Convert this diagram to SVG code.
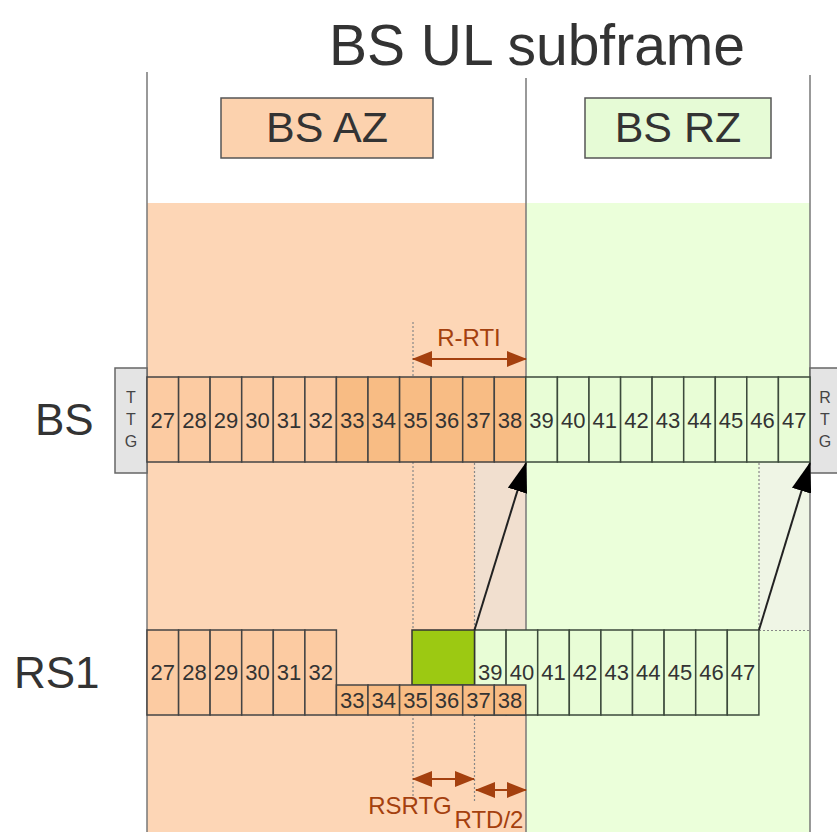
<svg xmlns="http://www.w3.org/2000/svg" width="837" height="832" viewBox="0 0 837 832">
<defs>
<style>
text{font-family:"Liberation Sans",Arial,sans-serif;fill:#333}
.title{font-size:57px;text-anchor:middle}
.zone{font-size:43px;text-anchor:middle}
.row{font-size:44px}
.num{font-size:22px;text-anchor:middle}
.gap{font-size:16px;text-anchor:middle;fill:#444}
.brown{font-size:24px;text-anchor:middle;fill:#a4400e}
.frame{stroke:#777;stroke-width:1.5;fill:none}
.dot{stroke:#888;stroke-width:1.2;stroke-dasharray:2 2;fill:none}
.lo{fill:#fccba2;stroke:#444;stroke-width:1.5}
.do{fill:#f8bc84;stroke:#444;stroke-width:1.5}
.gr{fill:#e8fdd6;stroke:#3c4a3c;stroke-width:1.5}
.gbox{fill:#9cc912;stroke:#333;stroke-width:1.5}
.gapbox{fill:#e4e4e4;stroke:#666;stroke-width:1.5}
.blk{stroke:#222;stroke-width:2;fill:none;marker-end:url(#ah)}
.br{stroke:#a4400e;stroke-width:2;fill:none;marker-start:url(#bh);marker-end:url(#bh)}
</style>
<marker id="ah" markerUnits="userSpaceOnUse" markerWidth="30" markerHeight="20" refX="29" refY="10" orient="auto">
<path d="M0,0 L30,10 L0,20 z" fill="#000"/>
</marker>
<marker id="bh" markerUnits="userSpaceOnUse" markerWidth="20" markerHeight="16" refX="19" refY="8" orient="auto-start-reverse">
<path d="M0,0 L20,8 L0,16 z" fill="#a4400e"/>
</marker>
</defs>

<!-- backgrounds -->
<rect x="147" y="203" width="379" height="629" fill="#fdd6b6"/>
<rect x="526" y="203" width="284" height="629" fill="#ebffda"/>
<rect x="474.5" y="463" width="51.5" height="167" fill="#f1dfcf"/>
<rect x="759" y="463" width="51" height="167" fill="#eff5e5"/>

<!-- title -->
<text class="title" x="537" y="65">BS UL subframe</text>

<g id="bs-az">
<rect x="221" y="98" width="212" height="60" fill="#fcd2ae" stroke="#555" stroke-width="1.5"/>
<text class="zone" x="327" y="142">BS AZ</text>
</g>
<g id="bs-rz">
<rect x="585" y="98" width="186" height="60" fill="#e6fbd6" stroke="#555" stroke-width="1.5"/>
<text class="zone" x="678" y="142">BS RZ</text>
</g>

<!-- dotted guides -->
<g id="guides">
<line class="dot" x1="413" y1="322" x2="413" y2="800"/>
<line class="dot" x1="474.5" y1="463" x2="474.5" y2="802"/>
<line class="dot" x1="759" y1="463" x2="759" y2="630"/>
<line class="dot" x1="759" y1="630.5" x2="810" y2="630.5"/>
</g>

<!-- frame lines -->
<g id="frame">
<line class="frame" x1="147" y1="72" x2="147" y2="832"/>
<line class="frame" x1="526" y1="78" x2="526" y2="832"/>
<line class="frame" x1="810" y1="75" x2="810" y2="832"/>
</g>

<!-- row labels -->
<text class="row" x="35" y="435">BS</text>
<text class="row" x="14" y="688">RS1</text>

<g id="ttg">
<rect class="gapbox" x="115" y="368" width="32" height="105"/>
<text class="gap" x="131" y="403">T</text>
<text class="gap" x="131" y="425">T</text>
<text class="gap" x="131" y="447">G</text>
</g>
<g id="rtg">
<rect class="gapbox" x="810" y="368" width="30" height="105"/>
<text class="gap" x="825" y="403">R</text>
<text class="gap" x="825" y="425">T</text>
<text class="gap" x="825" y="447">G</text>
</g>

<!-- BS row -->
<g id="bs-row">
<rect class="lo" x="147.0" y="377" width="31.6" height="85"/><text class="num" x="162.8" y="428">27</text>
<rect class="lo" x="178.6" y="377" width="31.5" height="85"/><text class="num" x="194.4" y="428">28</text>
<rect class="lo" x="210.1" y="377" width="31.6" height="85"/><text class="num" x="225.9" y="428">29</text>
<rect class="lo" x="241.7" y="377" width="31.6" height="85"/><text class="num" x="257.5" y="428">30</text>
<rect class="lo" x="273.3" y="377" width="31.6" height="85"/><text class="num" x="289.1" y="428">31</text>
<rect class="lo" x="304.9" y="377" width="31.5" height="85"/><text class="num" x="320.7" y="428">32</text>
<rect class="do" x="336.4" y="377" width="31.6" height="85"/><text class="num" x="352.2" y="428">33</text>
<rect class="do" x="368.0" y="377" width="31.6" height="85"/><text class="num" x="383.8" y="428">34</text>
<rect class="do" x="399.6" y="377" width="31.5" height="85"/><text class="num" x="415.4" y="428">35</text>
<rect class="do" x="431.1" y="377" width="31.6" height="85"/><text class="num" x="446.9" y="428">36</text>
<rect class="do" x="462.7" y="377" width="31.6" height="85"/><text class="num" x="478.5" y="428">37</text>
<rect class="do" x="494.3" y="377" width="31.5" height="85"/><text class="num" x="510.1" y="428">38</text>
<rect class="gr" x="525.8" y="377" width="31.6" height="85"/><text class="num" x="541.6" y="428">39</text>
<rect class="gr" x="557.4" y="377" width="31.6" height="85"/><text class="num" x="573.2" y="428">40</text>
<rect class="gr" x="589.0" y="377" width="31.6" height="85"/><text class="num" x="604.8" y="428">41</text>
<rect class="gr" x="620.6" y="377" width="31.5" height="85"/><text class="num" x="636.4" y="428">42</text>
<rect class="gr" x="652.1" y="377" width="31.6" height="85"/><text class="num" x="667.9" y="428">43</text>
<rect class="gr" x="683.7" y="377" width="31.6" height="85"/><text class="num" x="699.5" y="428">44</text>
<rect class="gr" x="715.3" y="377" width="31.5" height="85"/><text class="num" x="731.1" y="428">45</text>
<rect class="gr" x="746.8" y="377" width="31.6" height="85"/><text class="num" x="762.6" y="428">46</text>
<rect class="gr" x="778.4" y="377" width="31.6" height="85"/><text class="num" x="794.2" y="428">47</text>
</g>

<!-- RS1 row -->
<g id="rs1-row">
<rect class="lo" x="147.0" y="630" width="31.6" height="85"/><text class="num" x="162.8" y="680">27</text>
<rect class="lo" x="178.6" y="630" width="31.5" height="85"/><text class="num" x="194.4" y="680">28</text>
<rect class="lo" x="210.1" y="630" width="31.6" height="85"/><text class="num" x="225.9" y="680">29</text>
<rect class="lo" x="241.7" y="630" width="31.6" height="85"/><text class="num" x="257.5" y="680">30</text>
<rect class="lo" x="273.3" y="630" width="31.6" height="85"/><text class="num" x="289.1" y="680">31</text>
<rect class="lo" x="304.9" y="630" width="31.5" height="85"/><text class="num" x="320.7" y="680">32</text>
<rect class="gr" x="474.5" y="630" width="31.6" height="85"/><text class="num" x="490.3" y="680">39</text>
<rect class="gr" x="506.1" y="630" width="31.6" height="85"/><text class="num" x="521.9" y="680">40</text>
<rect class="gr" x="537.7" y="630" width="31.6" height="85"/><text class="num" x="553.5" y="680">41</text>
<rect class="gr" x="569.3" y="630" width="31.6" height="85"/><text class="num" x="585.1" y="680">42</text>
<rect class="gr" x="600.9" y="630" width="31.6" height="85"/><text class="num" x="616.7" y="680">43</text>
<rect class="gr" x="632.5" y="630" width="31.6" height="85"/><text class="num" x="648.3" y="680">44</text>
<rect class="gr" x="664.1" y="630" width="31.6" height="85"/><text class="num" x="679.9" y="680">45</text>
<rect class="gr" x="695.7" y="630" width="31.6" height="85"/><text class="num" x="711.5" y="680">46</text>
<rect class="gr" x="727.3" y="630" width="31.6" height="85"/><text class="num" x="743.1" y="680">47</text>
<rect class="gbox" x="412" y="630" width="62.5" height="55"/>
<rect class="do" x="336.4" y="685" width="31.6" height="30"/><text class="num" x="352.2" y="708">33</text>
<rect class="do" x="368.0" y="685" width="31.6" height="30"/><text class="num" x="383.8" y="708">34</text>
<rect class="do" x="399.6" y="685" width="31.5" height="30"/><text class="num" x="415.4" y="708">35</text>
<rect class="do" x="431.1" y="685" width="31.6" height="30"/><text class="num" x="446.9" y="708">36</text>
<rect class="do" x="462.7" y="685" width="31.6" height="30"/><text class="num" x="478.5" y="708">37</text>
<rect class="do" x="494.3" y="685" width="31.5" height="30"/><text class="num" x="510.1" y="708">38</text>
</g>

<!-- connectors -->
<g id="connectors">
<line class="blk" x1="474.5" y1="630" x2="526" y2="463"/>
<line class="blk" x1="759" y1="630" x2="810" y2="463"/>
<line class="br" x1="413" y1="359" x2="526" y2="359"/>
<line class="br" x1="413" y1="779" x2="474" y2="779"/>
<line class="br" x1="476" y1="790" x2="526" y2="790"/>
</g>

<text class="brown" x="469" y="346">R-RTI</text>
<text class="brown" x="410" y="814">RSRTG</text>
<text class="brown" x="489" y="828">RTD/2</text>
</svg>
